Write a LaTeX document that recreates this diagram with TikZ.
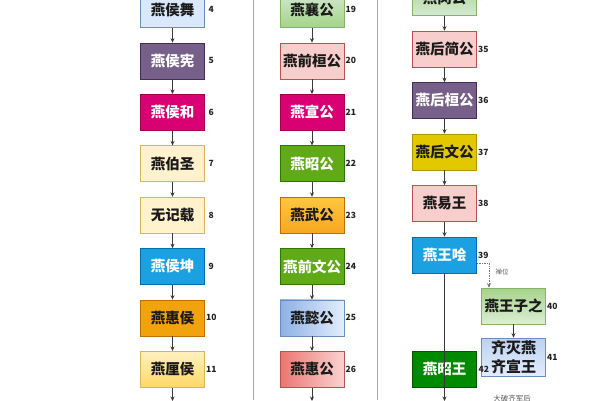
\documentclass[tikz,border=0pt]{standalone}
\usepackage{fontspec}
\newfontfamily\cjk{Noto Sans CJK SC}
\usetikzlibrary{arrows.meta}
\definecolor{txtdark}{HTML}{1A1A1A}
\definecolor{numc}{HTML}{222222}
\definecolor{arrc}{HTML}{3A3A3A}
\definecolor{sepc}{HTML}{A8A8A8}
\definecolor{lblue}{HTML}{DAE8FC}\definecolor{lblueB}{HTML}{6C8EBF}
\definecolor{purp}{HTML}{76608A}\definecolor{purpB}{HTML}{432D57}
\definecolor{mag}{HTML}{D80073}\definecolor{magB}{HTML}{A50040}
\definecolor{lyel}{HTML}{FFF2CC}\definecolor{lyelB}{HTML}{D6B656}
\definecolor{blu}{HTML}{1BA1E2}\definecolor{bluB}{HTML}{006EAF}
\definecolor{ora}{HTML}{F0A30A}\definecolor{oraB}{HTML}{BD7000}
\definecolor{grn}{HTML}{60A917}\definecolor{grnB}{HTML}{2D7600}
\definecolor{pink}{HTML}{F8CECC}\definecolor{pinkB}{HTML}{B85450}
\definecolor{yel}{HTML}{E3C800}\definecolor{yelB}{HTML}{B09500}
\definecolor{dgrn}{HTML}{008A00}\definecolor{dgrnB}{HTML}{005700}
\definecolor{lgrnB}{HTML}{82B366}
\definecolor{ltA}{HTML}{FFF0C0}\definecolor{ltB}{HTML}{FFD966}
\definecolor{lgA}{HTML}{D5E8D4}\definecolor{lgB}{HTML}{A3D487}
\definecolor{orA}{HTML}{FFC640}\definecolor{orB}{HTML}{F7A81E}
\definecolor{lbA}{HTML}{8DB0E5}\definecolor{lbB}{HTML}{E3EDFB}
\definecolor{rdA}{HTML}{EC7571}\definecolor{rdB}{HTML}{F9D3D1}
\definecolor{zgA}{HTML}{A6D38A}\definecolor{zgB}{HTML}{DCEED5}
\definecolor{qbA}{HTML}{BCD2F3}\definecolor{qbB}{HTML}{E2ECFB}
\begin{document}
\begin{tikzpicture}[x=1pt,y=-1pt,
  box/.style={draw, minimum width=64pt, minimum height=36pt, inner sep=0pt,
    font=\cjk\bfseries\fontsize{14.5}{16}\selectfont, line width=0.6pt, text=txtdark},
  wbox/.style={box, text=white},
  num/.style={font=\cjk\bfseries\fontsize{8.5}{10}\selectfont, text=numc, inner sep=0pt},
  arr/.style={draw=arrc, line width=0.7pt, -{Stealth[length=4.5pt,width=4pt]}},
  dotarr/.style={draw=arrc!70, line width=0.7pt, densely dotted, -{Stealth[length=4.5pt,width=4pt]}},
  sep/.style={draw=sepc, line width=1pt},
  small/.style={font=\cjk\fontsize{6.5}{7}\selectfont, text=black!65, inner sep=0pt},
]
\useasboundingbox (0,0) rectangle (600,400);
\clip (0,0) rectangle (600,400);
\fill[white] (0,0) rectangle (600,400);

% separators
\coordinate (s1t) at (253,0); \coordinate (s1b) at (253,400);
\coordinate (s2t) at (377,0); \coordinate (s2b) at (377,400);
\draw[sep] (s1t) -- (s1b);
\draw[sep] (s2t) -- (s2b);

% left column
\node[box, fill=lblue, draw=lblueB] (b4) at (172.5,9.5) {燕侯舞};
\node[wbox, fill=purp, draw=purpB] (b5) at (172.5,60.9) {燕侯宪};
\node[wbox, fill=mag, draw=magB] (b6) at (172.5,112.3) {燕侯和};
\node[box, fill=lyel, draw=lyelB] (b7) at (172.5,163.7) {燕伯圣};
\node[box, fill=lyel, draw=lyelB] (b8) at (172.5,215.1) {无记载};
\node[wbox, fill=blu, draw=bluB] (b9) at (172.5,266.5) {燕侯坤};
\node[box, fill=ora, draw=oraB] (b10) at (172.5,317.9) {燕惠侯};
\node[box, top color=ltA, bottom color=ltB, draw=lyelB] (b11) at (172.5,369.3) {燕厘侯};
\coordinate (endL) at (172.5,401);

% middle column
\node[box, top color=lgA, bottom color=lgB, draw=lgrnB] (b19) at (312,9.5) {燕襄公};
\node[box, fill=pink, draw=pinkB] (b20) at (312,60.9) {燕前桓公};
\node[wbox, fill=mag, draw=magB] (b21) at (312,112.3) {燕宣公};
\node[wbox, fill=grn, draw=grnB] (b22) at (312,163.7) {燕昭公};
\node[box, top color=orA, bottom color=orB, draw=oraB] (b23) at (312,215.1) {燕武公};
\node[wbox, fill=grn, draw=grnB] (b24) at (312,266.5) {燕前文公};
\node[box, left color=lbA, right color=lbB, draw=lblueB] (b25) at (312,317.9) {燕懿公};
\node[box, left color=rdA, right color=rdB, draw=pinkB] (b26) at (312,369.3) {燕惠公};
\coordinate (endM) at (312,401);

% right column
\node[box, top color=lgB, bottom color=lgA, draw=lgrnB] (b34) at (444.5,-2.5) {燕闵公};
\node[box, fill=pink, draw=pinkB] (b35) at (444.5,49) {燕后简公};
\node[wbox, fill=purp, draw=purpB] (b36) at (444.5,100.5) {燕后桓公};
\node[box, fill=yel, draw=yelB] (b37) at (444.5,152) {燕后文公};
\node[box, fill=pink, draw=pinkB] (b38) at (444.5,203.5) {燕易王};
\node[wbox, fill=blu, draw=bluB] (b39) at (444.5,255) {燕王哙};
\node[box, top color=zgA, bottom color=zgB, draw=lgrnB] (b40) at (513.5,306) {燕王子之};
\node[box, minimum height=38pt, align=center, top color=qbA, bottom color=qbB, draw=lblueB,
      font=\cjk\bfseries\fontsize{15}{19}\selectfont] (b41) at (513.5,357) {齐灭燕\\齐宣王};
\node[wbox, fill=dgrn, draw=dgrnB] (b42) at (444.5,369) {燕昭王};
\coordinate (endR) at (444.5,401);

% numbers
\foreach \n in {4,5,6,7,8,9,10,11,19,20,21,22,23,24,25,26,34,35,36,37,38,39,40,41}{
  \node[num] (n\n) at ([xshift=6.5pt]b\n.east) {\n};
}
\node[num] (n42) at ([xshift=7pt]b42.east) {42};

% arrows left
\draw[arr] (b4.south) -- (b5.north);
\draw[arr] (b5.south) -- (b6.north);
\draw[arr] (b6.south) -- (b7.north);
\draw[arr] (b7.south) -- (b8.north);
\draw[arr] (b8.south) -- (b9.north);
\draw[arr] (b9.south) -- (b10.north);
\draw[arr] (b10.south) -- (b11.north);
\draw[arr] (b11.south) -- (endL);
% arrows middle
\draw[arr] (b19.south) -- (b20.north);
\draw[arr] (b20.south) -- (b21.north);
\draw[arr] (b21.south) -- (b22.north);
\draw[arr] (b22.south) -- (b23.north);
\draw[arr] (b23.south) -- (b24.north);
\draw[arr] (b24.south) -- (b25.north);
\draw[arr] (b25.south) -- (b26.north);
\draw[arr] (b26.south) -- (endM);
% arrows right
\draw[arr] (b34.south) -- (b35.north);
\draw[arr] (b35.south) -- (b36.north);
\draw[arr] (b36.south) -- (b37.north);
\draw[arr] (b37.south) -- (b38.north);
\draw[arr] (b38.south) -- (b39.north);
\draw[arr] (b39.south) -- (endR);
\draw[dotarr] ([yshift=-8pt]b39.east) -| ([xshift=-24.5pt]b40.north);
\node[small] (chan) at (502,272) {禅位};
\draw[arr] (b40.south) -- (b41.north);

\node[small, font=\cjk\fontsize{7.5}{8}\selectfont] (note) at (512,398.5) {大破齐军后};
\end{tikzpicture}
\end{document}
